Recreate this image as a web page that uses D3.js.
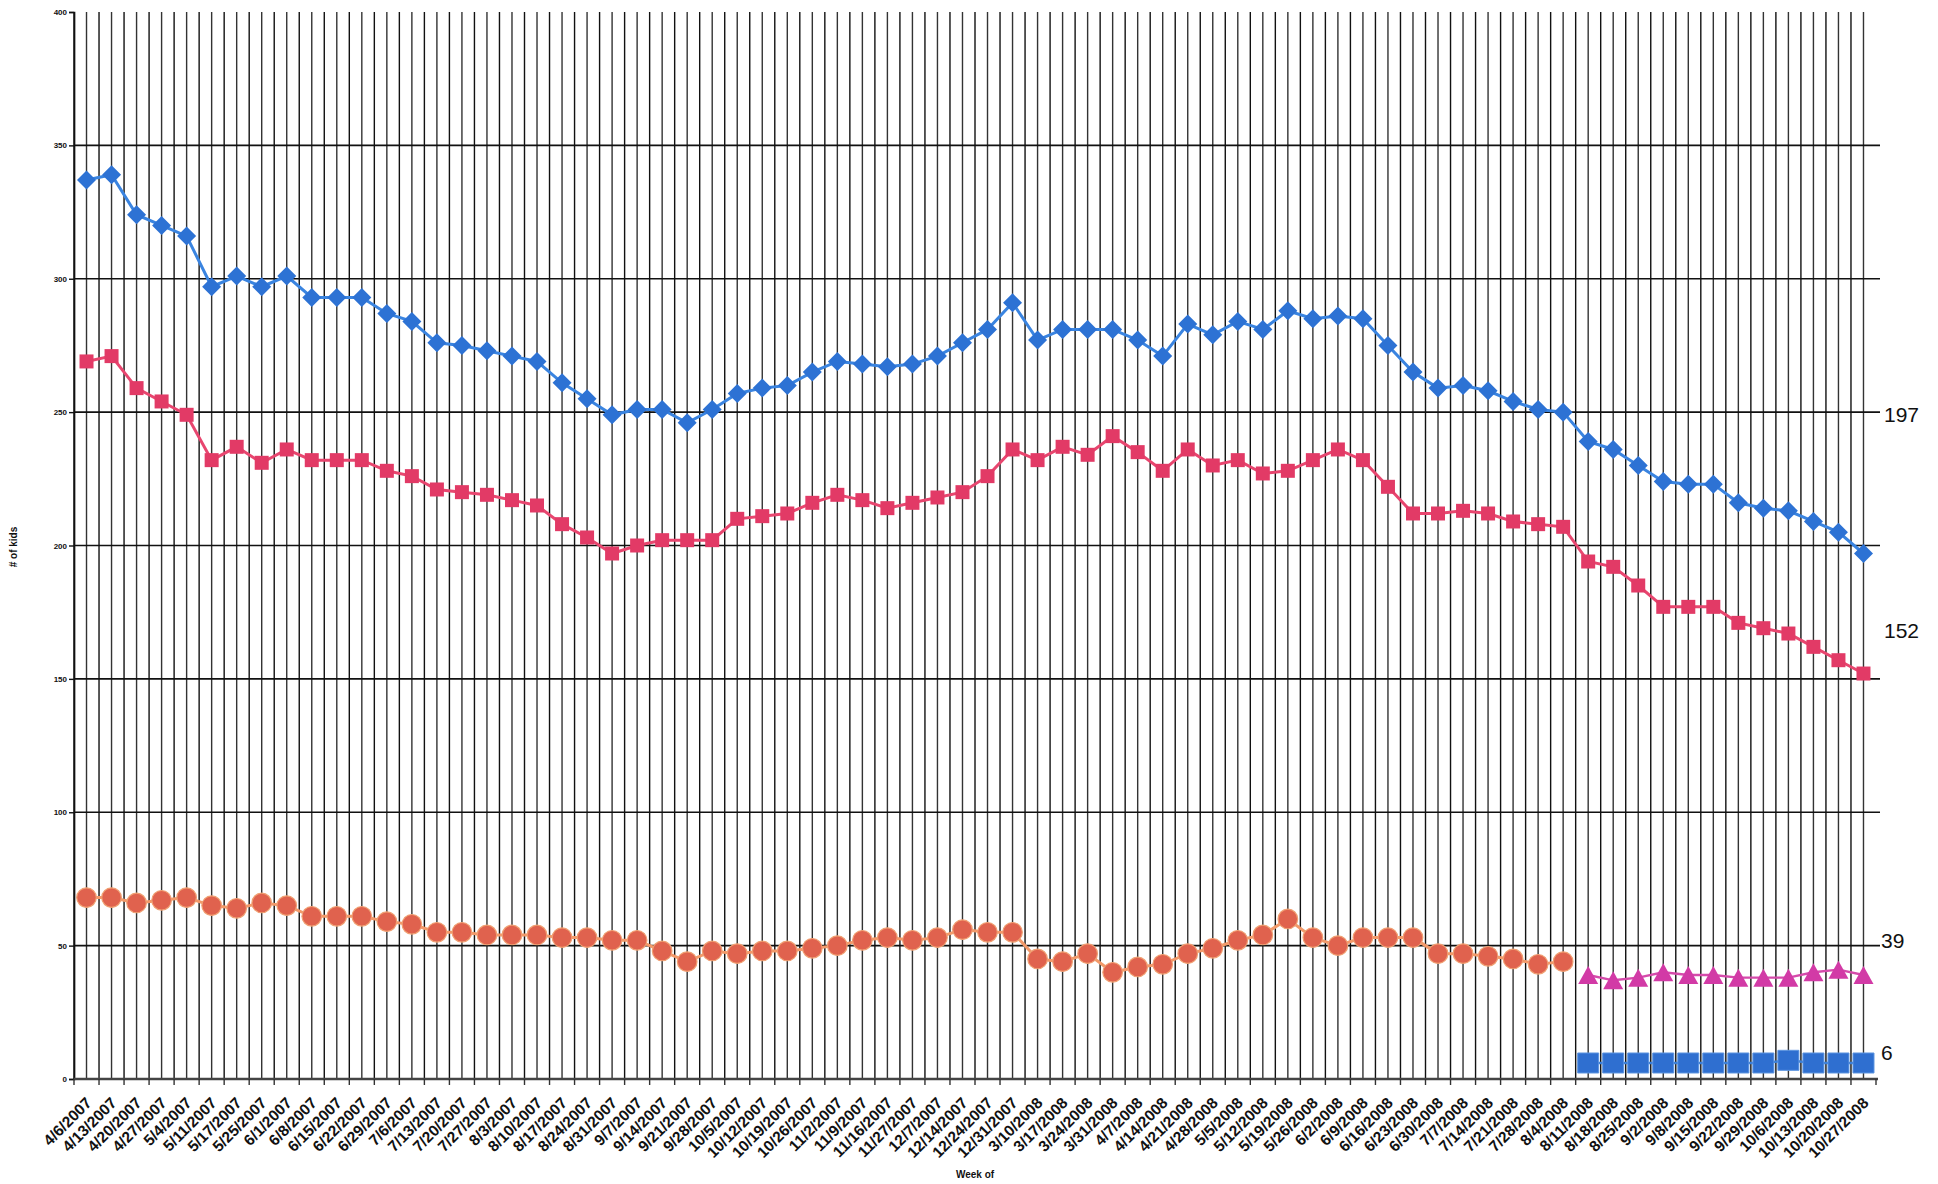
<!DOCTYPE html>
<html>
<head>
<meta charset="utf-8">
<script src="https://cdn.jsdelivr.net/npm/d3@7"></script>
<style>
  body { margin: 0; background: #fff; }
  svg { display: block; }
  text { font-family: "Liberation Sans", Arial, Helvetica, sans-serif; fill: #111; }
</style>
</head>
<body>
<svg id="chart" width="1938" height="1184"></svg>
<script>
var weeks = [
  '4/6/2007', '4/13/2007', '4/20/2007', '4/27/2007', '5/4/2007', '5/11/2007', '5/17/2007', '5/25/2007',
  '6/1/2007', '6/8/2007', '6/15/2007', '6/22/2007', '6/29/2007', '7/6/2007', '7/13/2007', '7/20/2007',
  '7/27/2007', '8/3/2007', '8/10/2007', '8/17/2007', '8/24/2007', '8/31/2007', '9/7/2007', '9/14/2007',
  '9/21/2007', '9/28/2007', '10/5/2007', '10/12/2007', '10/19/2007', '10/26/2007', '11/2/2007', '11/9/2007',
  '11/16/2007', '11/27/2007', '12/7/2007', '12/14/2007', '12/24/2007', '12/31/2007', '3/10/2008', '3/17/2008',
  '3/24/2008', '3/31/2008', '4/7/2008', '4/14/2008', '4/21/2008', '4/28/2008', '5/5/2008', '5/12/2008',
  '5/19/2008', '5/26/2008', '6/2/2008', '6/9/2008', '6/16/2008', '6/23/2008', '6/30/2008', '7/7/2008',
  '7/14/2008', '7/21/2008', '7/28/2008', '8/4/2008', '8/11/2008', '8/18/2008', '8/25/2008', '9/2/2008',
  '9/8/2008', '9/15/2008', '9/22/2008', '9/29/2008', '10/6/2008', '10/13/2008', '10/20/2008', '10/27/2008'
]

// blue diamonds, all weeks
var blueDiamonds = [
  337, 339, 324, 320, 316, 297, 301, 297, 301, 293, 293, 293, 287, 284, 276, 275,
  273, 271, 269, 261, 255, 249, 251, 251, 246, 251, 257, 259, 260, 265, 269, 268,
  267, 268, 271, 276, 281, 291, 277, 281, 281, 281, 277, 271, 283, 279, 284, 281,
  288, 285, 286, 285, 275, 265, 259, 260, 258, 254, 251, 250, 239, 236, 230, 224,
  223, 223, 216, 214, 213, 209, 205, 197
]

// red squares, all weeks
var redSquares = [
  269, 271, 259, 254, 249, 232, 237, 231, 236, 232, 232, 232, 228, 226, 221, 220,
  219, 217, 215, 208, 203, 197, 200, 202, 202, 202, 210, 211, 212, 216, 219, 217,
  214, 216, 218, 220, 226, 236, 232, 237, 234, 241, 235, 228, 236, 230, 232, 227,
  228, 232, 236, 232, 222, 212, 212, 213, 212, 209, 208, 207, 194, 192, 185, 177,
  177, 177, 171, 169, 167, 162, 157, 152
]

// orange circles, 4/6/2007 .. 8/4/2008
var orangeCircles = [
  68, 68, 66, 67, 68, 65, 64, 66, 65, 61, 61, 61, 59, 58, 55, 55,
  54, 54, 54, 53, 53, 52, 52, 48, 44, 48, 47, 48, 48, 49, 50, 52,
  53, 52, 53, 56, 55, 55, 45, 44, 47, 40, 42, 43, 47, 49, 52, 54,
  60, 53, 50, 53, 53, 53, 47, 47, 46, 45, 43, 44
]

// magenta triangles and blue squares, 8/11/2008 .. 10/27/2008
var magentaTriangles = [39, 37, 38, 40, 39, 39, 38, 38, 38, 40, 41, 39]
var blueSquares = [6, 6, 6, 6, 6, 6, 6, 6, 7, 6, 6, 6]

var yTicks = [0, 50, 100, 150, 200, 250, 300, 350, 400]

var svg = d3.select('#chart')

var x = d3.scaleBand().domain(weeks).range([74, 1876])
var y = d3.scaleLinear().domain([0, 400]).range([1079, 12])
var bw = x.bandwidth()
var cx = function(w) { return x(w) + bw / 2 }

var lateStart = weeks.indexOf('8/11/2008')

// vertical grid: every band edge and every band centre
var vLines = []
weeks.forEach(function(w) {
  vLines.push(x(w))
  vLines.push(cx(w))
})

svg.append('g')
  .selectAll('line')
  .data(vLines)
  .join('line')
  .attr('x1', function(d) { return d })
  .attr('x2', function(d) { return d })
  .attr('y1', y(400))
  .attr('y2', y(0))
  .attr('stroke', function(d, i) { return i % 2 ? '#333' : '#111' })
  .attr('stroke-width', 1.4)

// horizontal grid
svg.append('g')
  .selectAll('line')
  .data(yTicks.filter(function(d) { return d > 0 && d < 400 }))
  .join('line')
  .attr('x1', 74)
  .attr('x2', 1880)
  .attr('y1', function(d) { return y(d) })
  .attr('y2', function(d) { return y(d) })
  .attr('stroke', '#111')
  .attr('stroke-width', 1.7)

// y axis
var yAxis = svg.append('g')
  .attr('transform', 'translate(74,0)')
  .call(d3.axisLeft(y).tickValues(yTicks).tickSize(5).tickPadding(2).tickFormat(d3.format('d')))
yAxis.select('.domain').attr('stroke', '#111').attr('stroke-width', 1.7)
yAxis.selectAll('.tick line').attr('stroke', '#111').attr('stroke-width', 1.4)
yAxis.selectAll('.tick text')
  .style('font-family', '"Liberation Sans", Arial, sans-serif')
  .style('font-size', '8px')
  .style('font-weight', 'bold')
  .attr('fill', '#111')

// x axis line + ticks at band edges
svg.append('line')
  .attr('x1', 74).attr('x2', 1878)
  .attr('y1', y(0)).attr('y2', y(0))
  .attr('stroke', '#444').attr('stroke-width', 2.4)

svg.append('g')
  .selectAll('line')
  .data(weeks.concat(['end']))
  .join('line')
  .attr('x1', function(d) { return d === 'end' ? 1876 : x(d) })
  .attr('x2', function(d) { return d === 'end' ? 1876 : x(d) })
  .attr('y1', y(0))
  .attr('y2', y(0) + 6)
  .attr('stroke', '#333')
  .attr('stroke-width', 1.4)

svg.append('g')
  .selectAll('text')
  .data(weeks)
  .join('text')
  .attr('transform', function(d) { return 'translate(' + (cx(d) + 6) + ',1104) rotate(-45)' })
  .attr('text-anchor', 'end')
  .style('font-size', '15.5px')
  .style('font-weight', 'bold')
  .attr('fill', '#1a1a1a')
  .text(function(d) { return d })

// axis titles
svg.append('text')
  .attr('transform', 'translate(17,547) rotate(-90)')
  .attr('text-anchor', 'middle')
  .style('font-size', '10px')
  .style('font-weight', 'bold')
  .text('# of kids')

svg.append('text')
  .attr('x', 975)
  .attr('y', 1178)
  .attr('text-anchor', 'middle')
  .style('font-size', '10px')
  .style('font-weight', 'bold')
  .text('Week of')

// series
var series = [
  { values: blueDiamonds, start: 0, line: '#3a84e0', width: 3, fill: '#2d72d4',
    shape: 'M0,-9.5L9.5,0L0,9.5L-9.5,0Z' },
  { values: redSquares, start: 0, line: '#e8466f', width: 3, fill: '#e23a66',
    shape: 'M-7,-7H7V7H-7Z' },
  { values: orangeCircles, start: 0, line: '#f29a6a', width: 3, fill: '#e0624e',
    shape: 'circle', stroke: '#f0a072' },
  { values: magentaTriangles, start: lateStart, line: '#d54bab', width: 2.4, fill: '#d23aa6',
    shape: 'M0,-9L10,9L-10,9Z' },
  { values: blueSquares, start: lateStart, line: '#3b7fd8', width: 2.4, fill: '#2f6fd0',
    shape: 'M-10.5,-10H10.5V10H-10.5Z', stroke: '#5d95e0' }
]

var line = d3.line()

series.forEach(function(s) {
  var pts = s.values.map(function(v, i) { return [cx(weeks[s.start + i]), y(v)] })

  svg.append('path')
    .attr('d', line(pts))
    .attr('fill', 'none')
    .attr('stroke', s.line)
    .attr('stroke-width', s.width)

  var g = svg.append('g')
  if (s.shape === 'circle') {
    g.selectAll('circle')
      .data(pts)
      .join('circle')
      .attr('cx', function(d) { return d[0] })
      .attr('cy', function(d) { return d[1] })
      .attr('r', 9.8)
      .attr('fill', s.fill)
      .attr('stroke', s.stroke)
      .attr('stroke-width', 1.2)
  } else {
    g.selectAll('path')
      .data(pts)
      .join('path')
      .attr('d', s.shape)
      .attr('transform', function(d) { return 'translate(' + d[0] + ',' + d[1] + ')' })
      .attr('fill', s.fill)
      .attr('stroke', s.stroke || 'none')
      .attr('stroke-width', 1)
  }
})

// end-of-series values written at the right edge
var endLabels = [
  { s: series[0], at: 249.3 },
  { s: series[1], at: 168.3 },
  { s: series[3], at: 52.1 },
  { s: series[4], at: 10.1 }
]

svg.append('g')
  .selectAll('text')
  .data(endLabels)
  .join('text')
  .attr('x', function(d, i) { return i < 2 ? 1884 : 1881 })
  .attr('y', function(d) { return y(d.at) })
  .attr('dy', '0.36em')
  .style('font-size', '21px')
  .text(function(d) { return d.s.values[d.s.values.length - 1] })
</script>
</body>
</html>
